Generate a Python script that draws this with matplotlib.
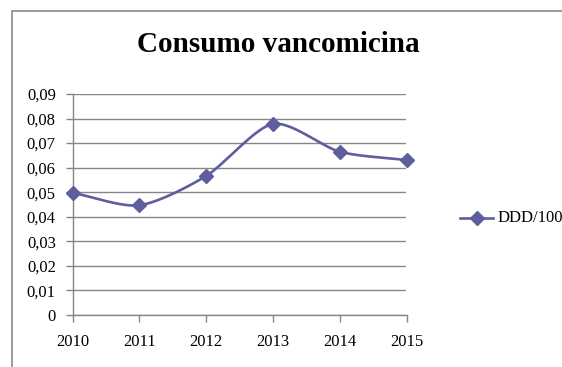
import numpy as np
import matplotlib
matplotlib.use("Agg")
import matplotlib.pyplot as plt
from matplotlib.patches import Rectangle
from matplotlib.lines import Line2D

years = [2010, 2011, 2012, 2013, 2014, 2015]
values = [0.0498, 0.0447, 0.0566, 0.0778, 0.0665, 0.0631]
yticks = [0, 0.01, 0.02, 0.03, 0.04, 0.05, 0.06, 0.07, 0.08, 0.09]
ytick_labels = ["0", "0,01", "0,02", "0,03", "0,04", "0,05", "0,06", "0,07", "0,08", "0,09"]
title = "Consumo vancomicina"
series_name = "DDD/1000"

W, H = 562, 367
fig = plt.figure(figsize=(W / 100, H / 100), dpi=100)
plt.rcParams['font.family'] = ['Liberation Serif', 'DejaVu Serif']

color = '#5E5E9E'
grid_c = '#868686'

# outer chart frame
fig.add_artist(Rectangle((12 / W, -0.2), 1.5, (1 - 10.5 / H) + 0.2,
                         transform=fig.transFigure, fill=False,
                         ec='#8a8a8a', lw=1.2))

left, right = 72.5 / W, 406.5 / W
bottom, top = 1 - 315 / H, 1 - 94 / H
ax = fig.add_axes([left, bottom, right - left, top - bottom])

# Cardinal spline smoothing (like Excel smoothed line)
def catmull(xs, ys, n=30, tension=0.8):
    px = np.array(xs, float); py = np.array(ys, float)
    px = np.concatenate([[2 * px[0] - px[1]], px, [2 * px[-1] - px[-2]]])
    py = np.concatenate([[2 * py[0] - py[1]], py, [2 * py[-1] - py[-2]]])
    ox, oy = [], []
    for i in range(1, len(px) - 2):
        t = np.linspace(0, 1, n, endpoint=False)
        h00 = 2 * t**3 - 3 * t**2 + 1
        h10 = t**3 - 2 * t**2 + t
        h01 = -2 * t**3 + 3 * t**2
        h11 = t**3 - t**2
        for arr, out in ((px, ox), (py, oy)):
            p0, p1, p2, p3 = arr[i - 1], arr[i], arr[i + 1], arr[i + 2]
            m1 = tension * 0.5 * (p2 - p0)
            m2 = tension * 0.5 * (p3 - p1)
            out.extend(h00 * p1 + h10 * m1 + h01 * p2 + h11 * m2)
    ox.append(xs[-1]); oy.append(ys[-1])
    return ox, oy

sx, sy = catmull(years, values)
ax.plot(sx, sy, color=color, lw=1.9, solid_capstyle='round', clip_on=False, zorder=3)
ax.plot(years, values, linestyle='none', marker='D', ms=7.2, color=color,
        mec=color, clip_on=False, zorder=4)

ax.set_xlim(2010, 2015)
ax.set_ylim(0, 0.09)
ax.set_yticks(yticks)
ax.set_yticklabels(ytick_labels)
ax.set_xticks(years)
ax.set_xticklabels([str(y) for y in years])
ax.yaxis.grid(True, color=grid_c, lw=1.0)
ax.set_axisbelow(True)
for s in ('top', 'right'):
    ax.spines[s].set_visible(False)
for s in ('left', 'bottom'):
    ax.spines[s].set_color(grid_c)
    ax.spines[s].set_linewidth(1.0)
ax.tick_params(axis='both', direction='out', length=5, width=1.0, color=grid_c,
               labelsize=12, labelcolor='black')
ax.tick_params(axis='y', pad=7)
ax.tick_params(axis='x', pad=9)

fig.text(278 / W, 1 - 45 / H, title, ha='center', va='center',
         fontsize=21, fontweight='bold')

# legend
ly = 1 - 218 / H
fig.add_artist(Line2D([460 / W, 493 / W], [ly, ly], transform=fig.transFigure,
                      color=color, lw=1.9))
fig.add_artist(Line2D([476.5 / W], [ly], transform=fig.transFigure, marker='D',
                      ms=7.2, color=color, linestyle='none'))
fig.text(498 / W, ly, series_name, ha='left', va='center', fontsize=12)

fig.savefig('out.png', dpi=100)
